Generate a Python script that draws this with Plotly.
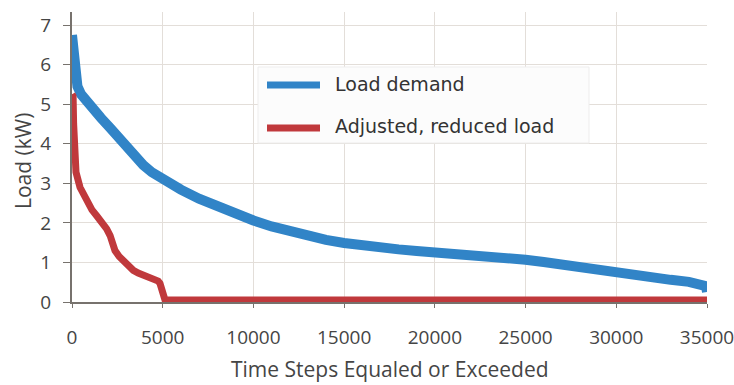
import plotly.graph_objects as go

# Load duration curves
demand_x = [0, 30, 80, 165, 300, 500, 800, 1200, 1600, 2100, 2600, 3000, 3500, 3930,
            4400, 4850, 5500, 6000, 7000, 8000, 9000, 10000, 11000, 12000, 13000, 14000,
            15000, 16000, 17000, 18000, 19000, 20000, 22500, 25000, 26000, 27000, 28000,
            29000, 30000, 31000, 32000, 33000, 34000, 34800, 34950, 35000]
demand_y = [6.75, 6.55, 6.2, 5.75, 5.45, 5.25, 5.07, 4.85, 4.65, 4.4, 4.12, 3.9, 3.66, 3.46,
            3.28, 3.14, 2.96, 2.84, 2.61, 2.41, 2.22, 2.06, 1.91, 1.78, 1.67, 1.57,
            1.49, 1.42, 1.37, 1.33, 1.29, 1.26, 1.17, 1.07, 1.01, 0.94, 0.86,
            0.78, 0.71, 0.66, 0.61, 0.56, 0.51, 0.46, 0.4, 0.25]

reduced_x = [0, 60, 90, 130, 220, 440, 810, 1100, 1360, 1650, 1910, 2100, 2190, 2370, 2600,
             2830, 3100, 3380, 3650, 3930, 4250, 4575, 4750, 4850, 4950, 5030, 5120, 5250, 35000]
reduced_y = [5.25, 5.2, 4.5, 3.6, 3.28, 2.9, 2.52, 2.33, 2.18, 2.02, 1.85, 1.68, 1.55, 1.3, 1.15,
             1.04, 0.91, 0.8, 0.73, 0.69, 0.64, 0.58, 0.53, 0.47, 0.36, 0.2, 0.06, 0.05, 0.05]

series_names = ["Load demand", "Adjusted, reduced load"]
x_ticks = [0, 5000, 10000, 15000, 20000, 25000, 30000, 35000]
y_ticks = [0, 1, 2, 3, 4, 5, 6, 7]

BLUE = "#3184c7"
RED = "#c0393c"
AXIS = "#77726d"
GRID = "#e3ded9"
TXT = "#454545"

fig = go.Figure()
fig.add_trace(go.Scatter(x=demand_x, y=demand_y, mode="lines", name=series_names[0],
                         line=dict(color=BLUE, width=10), showlegend=False))
fig.add_trace(go.Scatter(x=reduced_x, y=reduced_y, mode="lines", name=series_names[1],
                         line=dict(color=RED, width=7), showlegend=False))

# plot area pixel helpers (for the hand-drawn legend box)
L, R, T, B = 72, 27, 12, 83
W, H = 734, 385
pw, ph = W - L - R, H - T - B
px = lambda x: (x - L) / pw
py = lambda y: (H - B - y) / ph

shapes = [
    dict(type="rect", xref="paper", yref="paper", x0=px(258), x1=px(589), y0=py(143), y1=py(67),
         fillcolor="#fcfcfc", line=dict(color="#eeeded", width=1), layer="above"),
    dict(type="line", xref="paper", yref="paper", x0=px(267), x1=px(320), y0=py(85), y1=py(85),
         line=dict(color=BLUE, width=7), layer="above"),
    dict(type="line", xref="paper", yref="paper", x0=px(267), x1=px(320), y0=py(128), y1=py(128),
         line=dict(color=RED, width=7), layer="above"),
]
legend_font = dict(family="DejaVu Sans", size=19, color="#333333")
annotations = [
    dict(text=series_names[0], xref="paper", yref="paper", x=px(333), y=py(84), xanchor="left",
         yanchor="middle", showarrow=False, font=legend_font),
    dict(text=series_names[1], xref="paper", yref="paper", x=px(333), y=py(126), xanchor="left",
         yanchor="middle", showarrow=False, font=legend_font),
    dict(text="Load (kW)", xref="paper", yref="paper", x=px(23), y=py(161), xanchor="center",
         yanchor="middle", textangle=-90, showarrow=False,
         font=dict(family="Open Sans", size=21, color=TXT)),
    dict(text="Time Steps Equaled or Exceeded", xref="paper", yref="paper", x=px(390), y=py(369),
         xanchor="center", yanchor="middle", showarrow=False,
         font=dict(family="Open Sans", size=21, color=TXT)),
]

fig.update_layout(
    width=W, height=H,
    margin=dict(l=L, r=R, t=T, b=B),
    paper_bgcolor="white", plot_bgcolor="white",
    shapes=shapes, annotations=annotations,
    font=dict(family="Open Sans", size=19, color=TXT),
)
fig.update_xaxes(range=[0, 35000], tickvals=x_ticks, ticktext=[str(v) for v in x_ticks],
                 automargin=False, ticklabeloverflow="allow",
                 showgrid=True, gridcolor=GRID, gridwidth=1, zeroline=False,
                 showline=True, linecolor=AXIS, linewidth=2,
                 ticks="outside", ticklen=4, tickcolor=AXIS, ticklabelstandoff=13,
                 tickfont=dict(family="Open Sans", size=19, color=TXT))
fig.update_yaxes(range=[0, 7.33], tickvals=y_ticks, ticktext=[str(v) for v in y_ticks],
                 automargin=False,
                 showgrid=True, gridcolor=GRID, gridwidth=1, zeroline=False,
                 showline=True, linecolor=AXIS, linewidth=2,
                 ticks="outside", ticklen=7, tickcolor=AXIS, ticklabelstandoff=8,
                 tickfont=dict(family="Open Sans", size=19, color=TXT))

fig.write_html("out.html")
